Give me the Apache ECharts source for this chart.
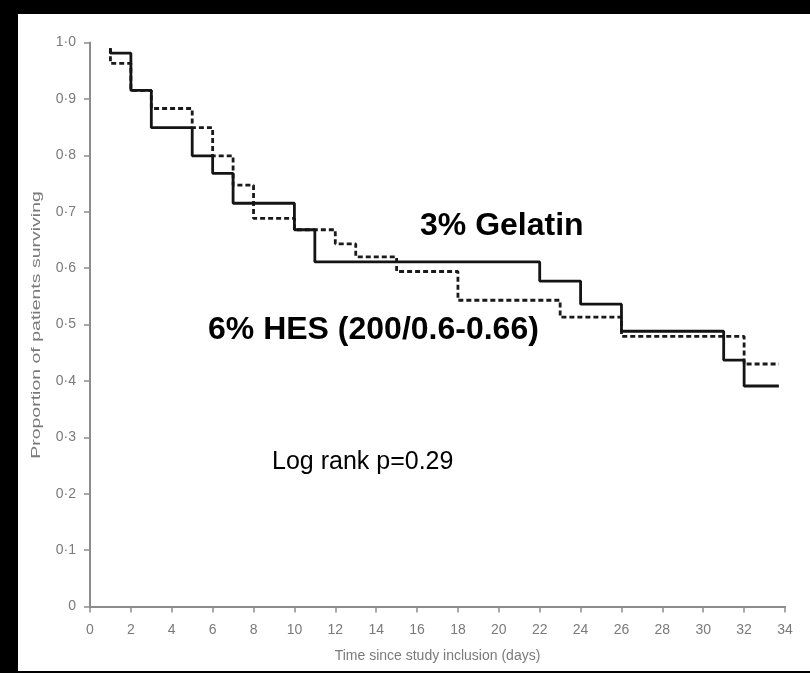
<!DOCTYPE html>
<html>
<head>
<meta charset="utf-8">
<script src="https://cdn.jsdelivr.net/npm/echarts@6/dist/echarts.min.js"></script>
<style>
  html, body { margin: 0; padding: 0; background: #000; }
  #frame { position: absolute; left: 0; top: 0; width: 810px; height: 673px; background: #000; }
  #chart { position: absolute; left: 18px; top: 14px; width: 792px; height: 657px; background: #fff; }
</style>
</head>
<body>
<div id="frame"><div id="chart"></div></div>
<script>
// Kaplan-Meier survival estimates, days since study inclusion
const gelatinTimes = [1, 1, 2, 3, 5, 6, 7, 10, 11, 22, 24, 26, 31, 32, 33.7];
const gelatinSurv  = [0.99, 0.981, 0.915, 0.849, 0.799, 0.768, 0.715, 0.668, 0.611, 0.577, 0.536, 0.488, 0.437, 0.391, 0.391];

const hesTimes = [1, 1, 2, 3, 5, 6, 7, 8, 10, 12, 13, 15, 18, 23, 26, 32, 33.7];
const hesSurv  = [0.99, 0.963, 0.915, 0.883, 0.849, 0.799, 0.747, 0.688, 0.668, 0.643, 0.620, 0.594, 0.543, 0.513, 0.479, 0.430, 0.430];

const yTickLabels = ['0', '0·1', '0·2', '0·3', '0·4', '0·5', '0·6', '0·7', '0·8', '0·9', '1·0'];

const seriesNames = ['3% Gelatin', '6% HES (200/0.6-0.66)'];
const statText = 'Log rank p=0.29';
const xTitle = 'Time since study inclusion (days)';
const yTitle = 'Proportion of patients surviving';

function pairs(ts, vs) { return ts.map((t, i) => [t, vs[i]]); }

const axisGrey = '#8c8c8c';
const labelGrey = '#7a7a7a';
const tickFont = 'Liberation Sans Narrow, Liberation Sans, Arial';

const chart = echarts.init(document.getElementById('chart'), null, { renderer: 'canvas' });

chart.setOption({
  animation: false,
  backgroundColor: '#fff',
  grid: { left: 72, right: 25, top: 28.5, bottom: 64.5, containLabel: false },
  xAxis: {
    type: 'value',
    min: 0, max: 34, interval: 2,
    offset: 1.5,
    splitLine: { show: false },
    axisLine: { show: true, lineStyle: { color: axisGrey, width: 2 } },
    axisTick: { show: true, inside: false, length: 6, lineStyle: { color: axisGrey, width: 1.5 } },
    axisLabel: { color: labelGrey, fontSize: 14, margin: 15, fontFamily: tickFont },
    name: xTitle,
    nameLocation: 'middle',
    nameGap: 41,
    nameTextStyle: { color: labelGrey, fontSize: 14, fontFamily: tickFont }
  },
  yAxis: {
    type: 'value',
    min: 0, max: 1, interval: 0.1,
    offset: 5,
    splitLine: { show: false },
    axisLine: { show: true, lineStyle: { color: axisGrey, width: 2 } },
    axisTick: { show: true, inside: false, length: 6, lineStyle: { color: axisGrey, width: 1.5 } },
    axisLabel: {
      color: labelGrey, fontSize: 14, margin: 9,
      fontFamily: tickFont,
      formatter: v => yTickLabels[Math.round(v * 10)]
    }
  },
  series: [
    {
      name: seriesNames[1],
      type: 'line',
      step: 'end',
      symbol: 'none',
      data: pairs(hesTimes, hesSurv),
      lineStyle: { color: '#1a1a1a', width: 2.8, type: [5, 3] },
      z: 2
    },
    {
      name: seriesNames[0],
      type: 'line',
      step: 'end',
      symbol: 'none',
      data: pairs(gelatinTimes, gelatinSurv),
      lineStyle: { color: '#141414', width: 2.8, type: 'solid' },
      z: 3
    }
  ],
  graphic: [
    {
      type: 'text', x: 402, y: 212,
      style: { text: seriesNames[0], font: 'bold 32px Liberation Sans, Arial', fill: '#000', align: 'left', verticalAlign: 'middle' }
    },
    {
      type: 'text', x: 190, y: 316,
      style: { text: seriesNames[1], font: 'bold 32px Liberation Sans, Arial', fill: '#000', align: 'left', verticalAlign: 'middle' }
    },
    {
      type: 'text', x: 254, y: 448,
      style: { text: statText, font: '25px Liberation Sans, Arial', fill: '#000', align: 'left', verticalAlign: 'middle' }
    },
    {
      type: 'text',
      x: 18, y: 311,
      rotation: Math.PI / 2,
      scaleX: 1.5,
      style: { text: yTitle, font: '13px Liberation Sans, Arial', fill: labelGrey, align: 'center', verticalAlign: 'middle' }
    }
  ]
});
</script>
</body>
</html>
